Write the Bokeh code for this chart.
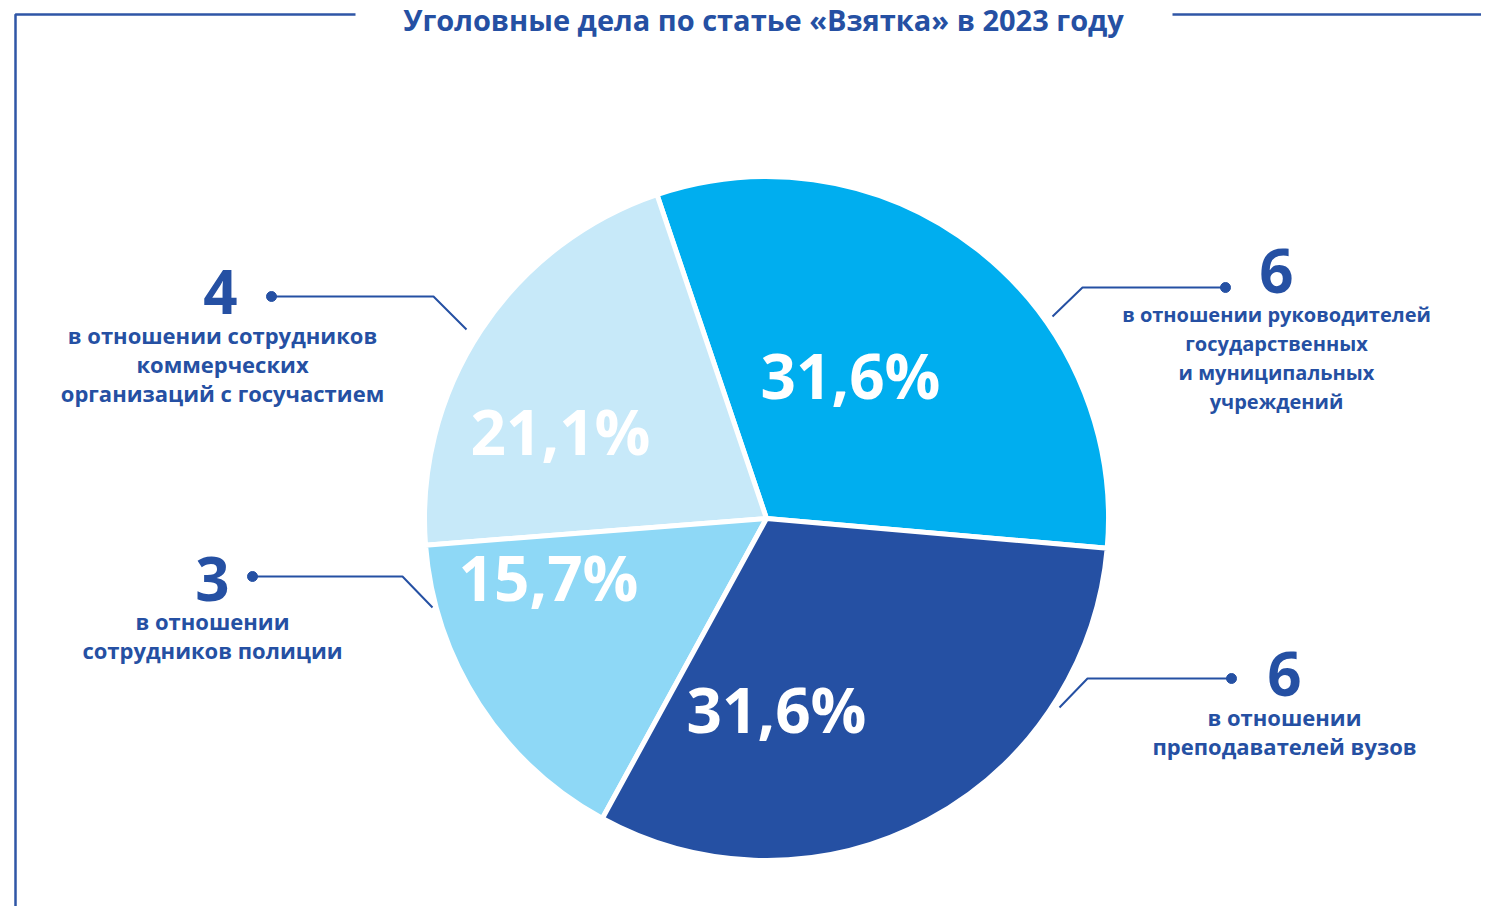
import numpy as np
from bokeh.plotting import figure
from bokeh.models import Range1d, ColumnDataSource
from bokeh.core.properties import value
from bokeh.embed import file_html
from bokeh.resources import INLINE

# ---------------- data ----------------
title = "Уголовные дела по статье «Взятка» в 2023 году"
groups = [
    ["в отношении руководителей", "государственных", "и муниципальных", "учреждений"],
    ["в отношении сотрудников", "коммерческих", "организаций с госучастием"],
    ["в отношении", "сотрудников полиции"],
    ["в отношении", "преподавателей вузов"],
]
counts = [6, 4, 3, 6]
shares = [31.6, 21.1, 15.7, 31.6]
colors = ["#00AEEF", "#C7E9F9", "#8ED8F6", "#2550A3"]

# ---------------- layout ----------------
W, H = 1481, 906
def fx(x):
    return x
def fy(y):
    return H - y

DARK = "#2550A3"
FONT = value("Open Sans")

p = figure(width=W, height=H, x_range=Range1d(0, W), y_range=Range1d(0, H),
           output_backend="svg", toolbar_location=None, min_border=0,
           x_axis_location=None, y_axis_location=None)
p.grid.visible = False
p.outline_line_color = None
p.background_fill_color = "white"

# pie
cx, cy, R = fx(766), fy(518), 342
total = sum(counts)
start0 = np.deg2rad(-5)
edges = start0 + np.cumsum([0] + counts) / total * 2 * np.pi
src = ColumnDataSource(dict(start=edges[:-1], end=edges[1:], color=colors))
p.wedge(x=cx, y=cy, radius=R, start_angle="start", end_angle="end",
        fill_color="color", line_color="white", line_width=5, source=src)

# percent labels
pct_pos = [(850, 374), (560, 430), (548, 576), (776, 708)]
pct_src = ColumnDataSource(dict(
    x=[fx(a) for a, b in pct_pos], y=[fy(b) for a, b in pct_pos],
    t=[f"{s:.1f}".replace(".", ",") + "%" for s in shares]))
p.text(x="x", y="y", text="t", source=pct_src, text_color="white",
       text_font=FONT, text_font_style="bold", text_font_size="62px",
       text_align="center", text_baseline="middle")

# big numbers
num_pos = [(1276, 270), (220, 291), (212, 578), (1284, 673)]
num_src = ColumnDataSource(dict(
    x=[fx(a) for a, b in num_pos], y=[fy(b) for a, b in num_pos],
    t=[str(c) for c in counts]))
p.text(x="x", y="y", text="t", source=num_src, text_color=DARK,
       text_font=FONT, text_font_style="bold", text_font_size="60px",
       text_align="center", text_baseline="middle")

# descriptions
desc_pos = [(1276, 314), (222, 334), (212, 620), (1284, 716)]
desc_size = ["20px", "22px", "22px", "22px"]
for (a, b), lines, sz in zip(desc_pos, groups, desc_size):
    p.text(x=[fx(a)] * len(lines), y=[fy(b + i * 29) for i in range(len(lines))],
           text=lines, text_color=DARK, text_font=FONT,
           text_font_style="bold", text_font_size=sz,
           text_align="center", text_baseline="middle")

# leader lines
dots = [(1225, 287), (271, 296), (252, 576), (1231, 678)]
elbows = [(1082, 287), (433, 296), (402, 576), (1087, 678)]
ends = [(1052, 316), (466, 329), (432, 607), (1059, 707)]
p.multi_line(xs=[[fx(d[0]), fx(e[0]), fx(n[0])] for d, e, n in zip(dots, elbows, ends)],
             ys=[[fy(d[1]), fy(e[1]), fy(n[1])] for d, e, n in zip(dots, elbows, ends)],
             line_color=DARK, line_width=2)
p.scatter(x=[fx(a) for a, b in dots], y=[fy(b) for a, b in dots],
          size=10, color=DARK)

# frame lines and title
p.line(x=[fx(15), fx(15), fx(355)], y=[fy(930), fy(14), fy(14)],
       line_color="#2F56A6", line_width=2.5)
p.line(x=[fx(1172), fx(1505)], y=[fy(14), fy(14)],
       line_color="#2F56A6", line_width=2.5)
p.text(x=[fx(763)], y=[fy(19)], text=[title], text_color=DARK, text_font=FONT,
       text_font_style="bold", text_font_size="29px",
       text_align="center", text_baseline="middle")

open("out.html", "w").write(file_html(p, INLINE))
